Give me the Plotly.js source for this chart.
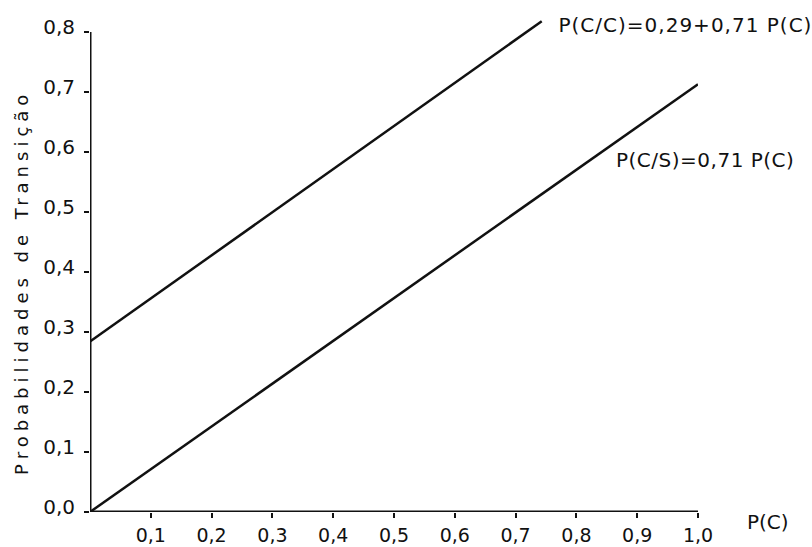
<!DOCTYPE html>
<html>
<head>
<meta charset="utf-8">
<script src="https://cdn.plot.ly/plotly-3.0.1.min.js"></script>
<style>html,body{margin:0;padding:0;background:#fff;}</style>
</head>
<body>
<div id="chart" style="width:812px;height:547px;"></div>
<script>
// P(C) values
const xCC = [0, 0.743];
const yCC = [0.284, 0.818];   // P(C/C) = 0,29 + 0,71 P(C)
const xCS = [0, 1.0];
const yCS = [0, 0.713];       // P(C/S) = 0,71 P(C)

const xTickVals = [0.1, 0.2, 0.3, 0.4, 0.5, 0.6, 0.7, 0.8, 0.9, 1.0];
const xTickText = ['0,1','0,2','0,3','0,4','0,5','0,6','0,7','0,8','0,9','1,0'];
const yTickVals = [0.0, 0.1, 0.2, 0.3, 0.4, 0.5, 0.6, 0.7, 0.8];
const yTickText = ['0,0','0,1','0,2','0,3','0,4','0,5','0,6','0,7','0,8'];

const labelCC = 'P(C/C)=0,29+0,71 P(C)';
const labelCS = 'P(C/S)=0,71 P(C)';
const xTitle = 'P(C)';
const yTitle = 'Probabilidades de Transição';

const FONT = 'DejaVu Sans, sans-serif';

const traces = [
  {x: xCC, y: yCC, mode: 'lines', line: {color: '#111', width: 2.5}, hoverinfo: 'skip'},
  {x: xCS, y: yCS, mode: 'lines', line: {color: '#111', width: 2.5}, hoverinfo: 'skip'}
];

const layout = {
  width: 812, height: 547,
  margin: {l: 90, r: 114, t: 2, b: 35},
  paper_bgcolor: '#fff', plot_bgcolor: '#fff',
  showlegend: false,
  font: {family: FONT, size: 18, color: '#111'},
  xaxis: {
    range: [0, 1.0], showgrid: false, zeroline: false, showline: false,
    ticks: 'outside', ticklen: 5, tickwidth: 2, tickcolor: '#111',
    tickvals: xTickVals, ticktext: xTickText, ticklabelstandoff: 1,
    tickfont: {family: FONT, size: 19, color: '#111'}
  },
  yaxis: {
    range: [0, 0.85], showgrid: false, zeroline: false, showline: false,
    ticks: 'outside', ticklen: 5, tickwidth: 2, tickcolor: '#111',
    tickvals: yTickVals, ticktext: yTickText, ticklabelstandoff: 5, ticklabelshift: -5,
    tickfont: {family: FONT, size: 20, color: '#111'}
  },
  shapes: [
    {type: 'line', xref: 'x', yref: 'y', x0: 0, y0: 0, x1: xTickVals[xTickVals.length-1], y1: 0,
     line: {color: '#111', width: 3}},
    {type: 'line', xref: 'x', yref: 'y', x0: 0, y0: 0, x1: 0, y1: yTickVals[yTickVals.length-1],
     line: {color: '#111', width: 3}}
  ],
  annotations: [
    {text: labelCC, xref: 'paper', yref: 'paper', x: 0.785, y: 0.955, xanchor: 'left', yanchor: 'middle',
     showarrow: false, font: {family: FONT, size: 20, color: '#111'}},
    {text: labelCS, xref: 'paper', yref: 'paper', x: 0.868, y: 0.690, xanchor: 'left', yanchor: 'middle',
     showarrow: false, font: {family: FONT, size: 20, color: '#111'}},
    {text: xTitle, xref: 'paper', yref: 'paper', x: 1.077, y: -0.02, xanchor: 'left', yanchor: 'middle',
     showarrow: false, font: {family: FONT, size: 20, color: '#111'}},
    {text: yTitle, xref: 'paper', yref: 'paper', x: -0.112, y: 0.45, xanchor: 'center', yanchor: 'middle',
     textangle: -90, showarrow: false, font: {family: FONT, size: 18, color: '#111'}}
  ]
};

Plotly.newPlot('chart', traces, layout, {staticPlot: true, displayModeBar: false}).then(function () {
  const spacing = ['1px', '0.5px', '0px', '5px'];
  document.querySelectorAll('#chart .annotation-text').forEach(function (el, i) {
    if (spacing[i]) el.style.letterSpacing = spacing[i];
  });
});
</script>
</body>
</html>
